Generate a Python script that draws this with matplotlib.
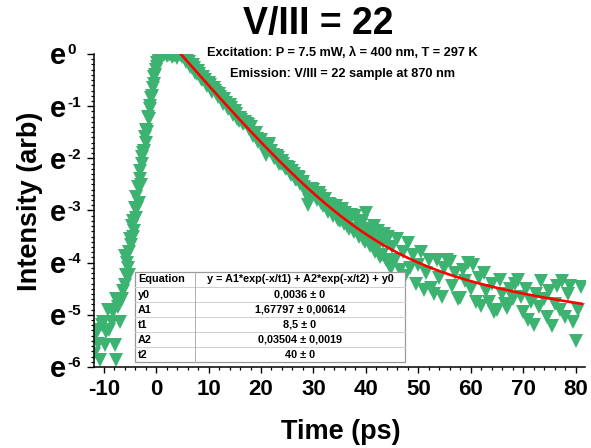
import numpy as np
import matplotlib
matplotlib.use('Agg')
import matplotlib.pyplot as plt
from matplotlib.ticker import FixedLocator, NullFormatter
from matplotlib.transforms import offset_copy
from matplotlib.patches import Rectangle

plt.rcParams['font.family'] = ['Liberation Sans', 'DejaVu Sans']
plt.rcParams['font.weight'] = 'bold'

# ---------------- data ----------------
# rising edge: time (ps) and ln(intensity)
rise_time = [-11.8, -11.7, -11.3, -11.0, -10.7, -10.4, -10.1, -9.8, -9.5, -9.2,
             -8.9, -8.5, -8.2, -7.9, -7.6, -7.6, -7.3, -6.9, -6.6, -6.3,
             -6.0, -6.0, -5.7, -5.4, -5.1, -4.8, -4.5, -4.2, -3.9, -3.6,
             -3.3, -3.0, -2.9, -2.6, -2.3, -2.0, -1.7, -1.4, -1.1, -0.8,
             -0.5, -0.2, 0.1, 0.4, 0.7,
             -5.55, -5.25, -4.95, -4.65, -4.35, -4.05, -3.75, -3.45, -3.15, -2.75,
             -2.45, -2.15, -1.85, -1.55, -1.25, -0.95, -0.65, -0.35, -0.05, 0.25,
             0.55]
rise_ln = [-5.75, -5.40, -5.30, -5.55, -5.86, -5.20, -5.13, -5.57, -5.32, -4.90,
           -5.30, -5.13, -4.95, -5.57, -5.86, -4.70, -4.85, -5.13, -4.70, -4.55,
           -4.43, -3.88, -4.23, -4.10, -4.23, -3.66, -3.50, -3.40, -3.14, -2.95,
           -2.85, -2.25, -2.51, -1.98, -1.85, -1.70, -1.50, -1.25, -1.00, -0.80,
           -0.58, -0.40, -0.25, -0.12, -0.06,
           -4.00, -3.80, -3.55, -3.30, -3.20, -2.95, -2.75, -2.55, -2.40, -2.10,
           -1.90, -1.60, -1.45, -1.20, -1.05, -0.85, -0.65, -0.45, -0.30, -0.18,
           -0.08]

# decay: sampled every 0.5 ps starting at 1.0 ps, ln(intensity)
decay_start = 1.0
decay_step = 0.5
decay_ln = [
    -0.03, -0.01, -0.04, -0.02, -0.06, -0.03, -0.08, -0.02, -0.06, -0.10,   # 1.0 - 5.5
    -0.10, -0.24, -0.22, -0.36, -0.33, -0.47, -0.44, -0.58, -0.55, -0.69,   # 6.0 - 10.5
    -0.66, -0.74, -0.77, -0.88, -0.86, -1.00, -0.98, -1.12, -1.10, -1.24,   # 11.0 - 15.5
    -1.22, -1.34, -1.30, -1.36, -1.40, -1.58, -1.52, -1.68, -1.64, -1.80,   # 16.0 - 20.5
    -1.93, -1.72, -1.86, -1.99, -1.96, -2.10, -2.05, -2.18, -2.16, -2.29,   # 21.0 - 25.5
    -2.24, -2.40, -2.36, -2.50, -2.45, -2.62, -2.89, -2.73, -2.60, -2.75,   # 26.0 - 30.5
    -2.66, -2.85, -2.80, -2.98, -2.88, -3.05, -2.95, -3.12, -3.20, -2.98,   # 31.0 - 35.5
    -3.05, -3.30, -3.15, -3.38, -3.10, -3.46, -3.28, -3.55, -3.05, -3.40,   # 36.0 - 40.5
    -3.62, -3.30, -3.72, -3.50, -3.85, -3.45, -3.56, -4.05, -3.70, -3.95,   # 41.0 - 45.5
    -3.55, -4.15, -3.80, -4.25, -3.62, -4.10, -3.85, -4.40, -4.05, -3.80,   # 46.0 - 50.5
    -4.52, -4.20, -3.95, -4.49, -4.60, -3.95, -4.30, -4.65, -4.10, -3.95,   # 51.0 - 55.5
    -3.98, -4.45, -4.20, -4.70, -4.68, -4.15, -4.35, -4.01, -4.50, -4.05,   # 56.0 - 60.5
    -4.75, -4.30, -4.84, -4.20, -4.55, -4.75, -4.40, -4.95, -4.90, -4.33,   # 61.0 - 65.5
    -4.60, -4.80, -4.87, -4.50, -4.70, -4.40, -4.33, -4.65, -4.95, -4.50,   # 66.0 - 70.5
    -5.10, -4.75, -5.19, -4.60, -4.85, -4.36, -4.70, -5.05, -4.55, -5.22,   # 71.0 - 75.5
    -4.80, -4.45, -4.90, -4.36, -5.05, -4.60, -4.45, -5.13, -5.51, -4.90,   # 76.0 - 80.5
    -4.46,                                                                  # 81.0
]

# second interleaved sampling (5.25 ps onward, every 0.5 ps), ln(intensity)
decay2_start = 5.25
decay2_ln = [
    -0.04, -0.15, -0.15, -0.27, -0.27, -0.39, -0.38, -0.50, -0.49, -0.61,   # 5.25 - 9.75
    -0.60, -0.72, -0.71, -0.83, -0.82, -0.95, -0.93, -1.06, -1.04, -1.17,   # 10.25 - 14.75
    -1.15, -1.28, -1.26, -1.33, -1.35, -1.44, -1.53, -1.55, -1.63, -1.67,   # 15.25 - 19.75
    -1.74, -1.83, -1.78, -1.85, -1.94, -2.00, -2.00, -2.11, -2.10, -2.21,   # 20.25 - 24.75
    -2.19, -2.31, -2.30, -2.42, -2.38, -2.52, -2.55, -2.70, -2.80, -2.58,   # 25.25 - 29.75
    -2.68, -2.80, -2.72, -2.92, -2.78, -3.02, -2.90, -3.10, -2.92, -3.18,   # 30.25 - 34.75
    -3.02, -3.25, -3.10, -3.35, -3.08, -3.42, -3.20, -3.50, -3.22, -3.60,   # 35.25 - 39.75
    -3.35, -3.68, -3.45, -3.80, -3.40, -3.90, -3.60, -3.95, -3.50, -4.10,   # 40.25 - 44.75
]

# fit parameters (from the table)
y0 = 0.0036
A1 = 1.67797
t1 = 8.5
A2 = 0.03504
t2 = 40.0
fit_start, fit_end = 4.6, 81.2

table_names = ['Equation', 'y0', 'A1', 't1', 'A2', 't2']
table_values = ['y = A1*exp(-x/t1) + A2*exp(-x/t2) + y0', '0,0036 \u00b1 0',
                '1,67797 \u00b1 0,00614', '8,5 \u00b1 0', '0,03504 \u00b1 0,0019',
                '40 \u00b1 0']

y_exponents = [0, -1, -2, -3, -4, -5, -6]
x_ticks = [-10, 0, 10, 20, 30, 40, 50, 60, 70, 80]

# ---------------- figure ----------------
decay_time = decay_start + decay_step * np.arange(len(decay_ln))
decay2_time = decay2_start + decay_step * np.arange(len(decay2_ln))
time = np.concatenate([rise_time, decay_time, decay2_time])
intensity = np.exp(np.concatenate([rise_ln, decay_ln, decay2_ln]))

fit_t = np.linspace(fit_start, fit_end, 400)
fit_y = A1 * np.exp(-fit_t / t1) + A2 * np.exp(-fit_t / t2) + y0

W, H = 591, 448
fig = plt.figure(figsize=(W / 100, H / 100), dpi=100)
L, R, T, B = 94, 585, 54, 367
ax = fig.add_axes([L / W, 1 - B / H, (R - L) / W, (B - T) / H])

green = '#3CB371'
ax.plot(time, intensity, linestyle='none', marker='v', ms=10.5, mew=0,
        color=green, zorder=2)
ax.plot(fit_t, fit_y, color='#FF0000', lw=1.9, zorder=3)

ax.set_yscale('log', base=np.e)
ax.set_ylim(np.exp(-6), np.exp(0))
ax.set_xlim(-11.85, 81.8)

for s in ['top', 'right']:
    ax.spines[s].set_visible(False)
for s in ['left', 'bottom']:
    ax.spines[s].set_linewidth(1.1)

ax.set_xticks(x_ticks)
ax.set_xticks(np.arange(-10, 82, 2), minor=True)
ax.set_xticklabels([str(v) for v in x_ticks])
ax.tick_params(axis='x', which='major', direction='out', length=4.5, width=1.0,
               labelsize=16, pad=4)
ax.tick_params(axis='x', which='minor', direction='out', length=2.3, width=0.9)

ax.yaxis.set_major_locator(FixedLocator(np.exp(np.array(y_exponents, float))))
minor_exp = [k / 10 for k in range(-60, 1) if k % 10 != 0]
ax.yaxis.set_minor_locator(FixedLocator(np.exp(np.array(minor_exp))))
ax.yaxis.set_minor_formatter(NullFormatter())
ax.set_yticklabels([''] * len(y_exponents))
ax.tick_params(axis='y', which='major', direction='out', length=5, width=1.0)
ax.tick_params(axis='y', which='minor', direction='out', length=2.5, width=0.9)

ytr = ax.get_yaxis_transform()
for k in y_exponents:
    ax.text(0, np.exp(k), 'e', transform=offset_copy(ytr, fig, x=-20.2, y=-7.5, units='points'),
            ha='right', va='baseline', fontsize=21, fontweight='bold', clip_on=False)
    ax.text(0, np.exp(k), str(k),
            transform=offset_copy(ytr, fig, x=-19.4, y=-0.3, units='points'),
            ha='left', va='baseline', fontsize=11, fontweight='bold', clip_on=False)

# labels and titles
fig.text(30 / W, 1 - 201 / H, 'Intensity (arb)', rotation=90, ha='center', va='center',
         fontsize=19.5, fontweight='bold')
fig.text(341 / W, 1 - 432 / H, 'Time (ps)', ha='center', va='center',
         fontsize=19.5, fontweight='bold')
fig.text(318 / W, 1 - 34 / H, 'V/III = 22', ha='center', va='baseline',
         fontsize=27, fontweight='bold')
fig.text(342 / W, 1 - 56.5 / H, 'Excitation: P = 7.5 mW, \u03bb = 400 nm, T = 297 K',
         ha='center', va='baseline', fontsize=9.2, fontweight='bold')
fig.text(342 / W, 1 - 77.5 / H, 'Emission: V/III = 22 sample at 870 nm',
         ha='center', va='baseline', fontsize=9.2, fontweight='bold')

# fit table (drawn in figure pixel space converted to axes fraction)
tx0, tx1, ty0, ty1, tcol = 135, 405, 272, 362, 195
def fx(px):
    return (px - L) / (R - L)
def fy(py):
    return (B - py) / (B - T)

ax.add_patch(Rectangle((fx(tx0), fy(ty1)), fx(tx1) - fx(tx0), fy(ty0) - fy(ty1),
                       transform=ax.transAxes, facecolor='white', edgecolor='#9a9a9a',
                       lw=0.9, zorder=5, clip_on=False))
nrows = len(table_names)
rh = (ty1 - ty0) / nrows
for i in range(1, nrows):
    yy = fy(ty0 + i * rh)
    ax.plot([fx(tx0), fx(tx1)], [yy, yy], transform=ax.transAxes, color='#cfcfcf',
            lw=0.7, zorder=6, clip_on=False)
ax.plot([fx(tcol), fx(tcol)], [fy(ty0), fy(ty1)], transform=ax.transAxes,
        color='#b0b0b0', lw=0.7, zorder=6, clip_on=False)
for i, (n, v) in enumerate(zip(table_names, table_values)):
    yc = fy(ty0 + (i + 0.5) * rh)
    ax.text(fx(tx0 + 3), yc, n, transform=ax.transAxes, ha='left', va='center',
            fontsize=7.8, fontweight='bold', zorder=7)
    ax.text(fx((tcol + tx1) / 2), yc, v, transform=ax.transAxes, ha='center',
            va='center', fontsize=7.8, fontweight='bold', zorder=7)

fig.savefig('out.png', dpi=100)
